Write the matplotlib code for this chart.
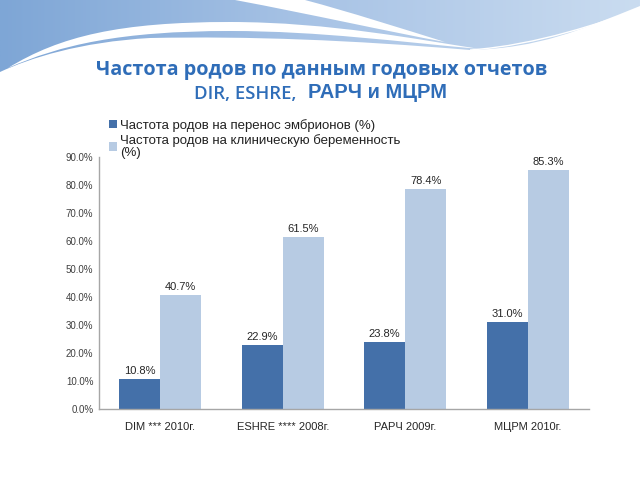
import numpy as np
import matplotlib
matplotlib.use("Agg")
import matplotlib.pyplot as plt
from matplotlib.path import Path
from matplotlib.patches import PathPatch
from matplotlib.colors import LinearSegmentedColormap

# data
categories = ["DIM *** 2010г.", "ESHRE **** 2008г.", "РАРЧ 2009г.", "МЦРМ 2010г."]
per_transfer = [10.8, 22.9, 23.8, 31.0]
per_pregnancy = [40.7, 61.5, 78.4, 85.3]
series_names = ["Частота родов на перенос эмбрионов (%)",
                "Частота родов на клиническую беременность\n(%)"]
yticks = [0, 10, 20, 30, 40, 50, 60, 70, 80, 90]

dark = "#4470a9"
light = "#b7cbe3"
title_col = "#2f6db8"

fig = plt.figure(figsize=(6.4, 4.8), dpi=100)

# decorative wave at the top (pixel coords)
bg = fig.add_axes([0, 0, 1, 1], zorder=0)
bg.axis("off")

M, C4, L, CL = Path.MOVETO, Path.CURVE4, Path.LINETO, Path.CLOSEPOLY
blue_verts = [(0, 0), (640, 0), (640, 6),
              (580, 30), (540, 48), (470, 50),
              (350, 40), (250, 36), (150, 38),
              (80, 42), (30, 58), (0, 72),
              (0, 0)]
blue_codes = [M, L, L, C4, C4, C4, C4, C4, C4, C4, C4, C4, CL]
blue = PathPatch(Path(blue_verts, blue_codes), facecolor="none", edgecolor="none")
bg.add_patch(blue)
cmap = LinearSegmentedColormap.from_list("w", ["#7ea6d6", "#a9c4e6", "#cadcf0"])
grad = np.linspace(0, 1, 256).reshape(1, -1)
im = bg.imshow(grad, cmap=cmap, extent=[0, 640, 80, 0], aspect="auto", zorder=1)
im.set_clip_path(blue)
bg.set_xlim(0, 640)
bg.set_ylim(480, 0)

w1_verts = [(8, 68), (60, 36), (120, 22), (230, 22),
            (330, 22), (420, 40), (480, 49),
            (400, 42), (320, 31), (230, 31),
            (120, 31), (60, 45), (8, 68)]
w1_codes = [M, C4, C4, C4, C4, C4, C4, C4, C4, C4, C4, C4, C4]
bg.add_patch(PathPatch(Path(w1_verts, w1_codes), facecolor="white", edgecolor="none", zorder=2))

w2_verts = [(235, 0), (305, 0),
            (350, 12), (400, 28), (445, 42),
            (390, 32), (310, 14), (235, 0)]
w2_codes = [M, L, C4, C4, C4, C4, C4, C4]
bg.add_patch(PathPatch(Path(w2_verts, w2_codes), facecolor="white", edgecolor="none", zorder=2))

w3_verts = [(470, 50), (540, 45), (600, 22), (640, 10)]
bg.add_patch(PathPatch(Path(w3_verts, [M, C4, C4, C4]), facecolor="none",
                       edgecolor="white", lw=1.0, zorder=2))

# title
fig.text(321.5 / 640, 1 - 70 / 480, "Частота родов по данным годовых отчетов",
         ha="center", va="center", color=title_col, fontsize=14.2,
         fontweight="bold", family="Open Sans")
fig.text(296 / 640, 1 - 94 / 480, "DIR, ESHRE,", ha="right", va="center",
         color=title_col, fontsize=13.3, fontweight="semibold", family="Open Sans")
fig.text(308 / 640, 1 - 93 / 480, "РАРЧ и МЦРМ", ha="left", va="center",
         color=title_col, fontsize=14.5, fontweight="bold", family="Liberation Sans")

# chart
ax = fig.add_axes([99 / 640, 71 / 480, 490 / 640, 252 / 480], zorder=3)
ax.patch.set_alpha(0)
x = np.arange(len(categories))
w = 0.335
b1 = ax.bar(x - w / 2, per_transfer, w, color=dark, label=series_names[0])
b2 = ax.bar(x + w / 2, per_pregnancy, w, color=light, label=series_names[1])
for bars, vals in ((b1, per_transfer), (b2, per_pregnancy)):
    for r, v in zip(bars, vals):
        ax.text(r.get_x() + r.get_width() / 2, v + 1.1, f"{v:.1f}%",
                ha="center", va="bottom", fontsize=8, color="#262626",
                family="Liberation Sans")

ax.set_xlim(-0.5, len(categories) - 0.5)
ax.set_ylim(0, 90)
ax.set_yticks(yticks)
ax.set_yticklabels([f"{t:.1f}%" for t in yticks], fontsize=7, color="#404040",
                   family="Liberation Sans")
ax.set_xticks(x)
ax.set_xticklabels(categories, fontsize=8, color="#262626", family="Liberation Sans")
ax.tick_params(axis="x", length=0, pad=9)
ax.tick_params(axis="y", length=0, pad=4)
for s in ("top", "right"):
    ax.spines[s].set_visible(False)
for s in ("left", "bottom"):
    ax.spines[s].set_color("#a6a6a6")
    ax.spines[s].set_linewidth(1.0)

leg = fig.legend(loc="upper left", bbox_to_anchor=(97 / 640, 1 - 107 / 480),
                 frameon=False, handlelength=0.6, handleheight=0.6,
                 handletextpad=0.25, labelspacing=0.15,
                 prop={"family": "Liberation Sans", "size": 9.5})
for t in leg.get_texts():
    t.set_color("#222222")
    t.set_linespacing(1.05)

fig.savefig("out.png", dpi=100)
